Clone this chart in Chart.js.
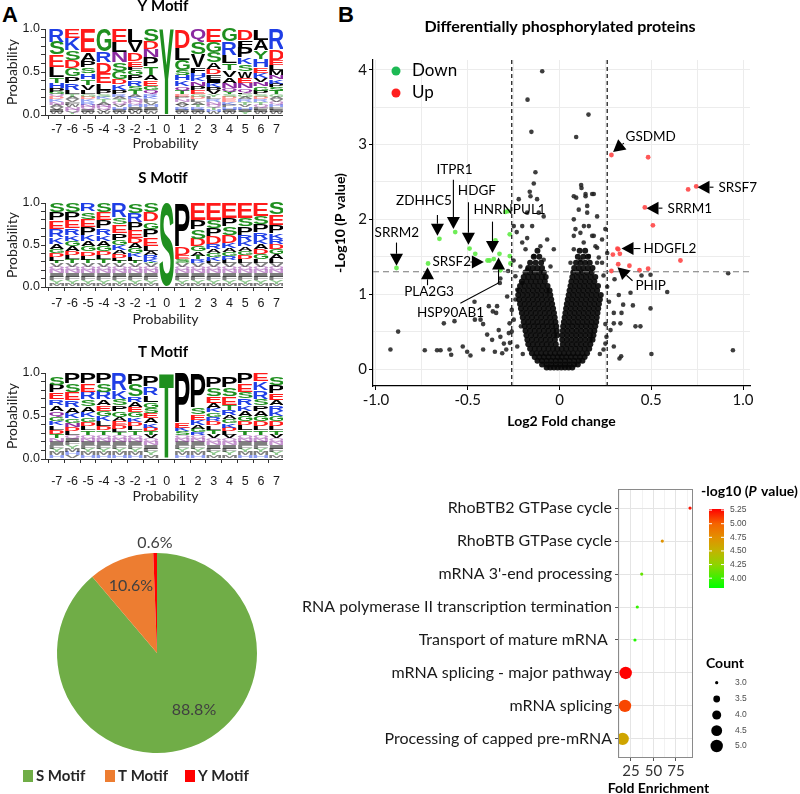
<!DOCTYPE html>
<html><head><meta charset="utf-8">
<script src="https://cdn.jsdelivr.net/npm/chart.js@4.4.1/dist/chart.umd.min.js"></script>
<style>
html,body{margin:0;padding:0;background:#fff}
body{width:800px;height:794px;position:relative;overflow:hidden}
.w{position:absolute;overflow:hidden}
canvas{display:block}
.lbl{position:absolute;font:bold 22px 'Liberation Sans',Arial,sans-serif;line-height:22px;color:#000}
</style></head><body>
<div class="lbl" style="left:2px;top:4px">A</div>
<div class="lbl" style="left:338px;top:4px">B</div>
<div class="w" style="left:0;top:0;width:283px;height:152px"><canvas id="logoY" width="300" height="152"></canvas></div>
<div class="w" style="left:0;top:172px;width:283px;height:156px"><canvas id="logoS" width="300" height="156"></canvas></div>
<div class="w" style="left:0;top:344px;width:283px;height:161px"><canvas id="logoT" width="300" height="161"></canvas></div>
<div class="w" style="left:0;top:520px;width:283px;height:274px"><canvas id="pie" width="283" height="274"></canvas></div>
<div class="w" style="left:300px;top:0;width:500px;height:430px"><canvas id="volcano" width="500" height="430"></canvas></div>
<div class="w" style="left:280px;top:460px;width:520px;height:334px"><canvas id="dots" width="520" height="340"></canvas></div>
<script>
// ===================== DATA =====================
const positions = [-7,-6,-5,-4,-3,-2,-1,0,1,2,3,4,5,6,7];

// Sequence logos: letters listed top -> bottom; heights for the leading letters, remaining letters use the tail height
const yMotifLetters = ["RSELTHPGQDKNAVIW","EKSDGPRLTAVFWNQY","EAPSHTVLGDKRNQIW","GRDELPSKTANQVW","ELNSGDKPRATQVHIW","LVDEFGPRSTAKNQHIMW","SDNPTAEGQRKLVHIFW","Y","DLGSHKQTEPNAVRIW","QSVFHKNPEGDLATRIW","EGSADFIKPVYLRNQTHW","GRLTVANQYSDEKPHIW","DFPKSWENQLGARTVHIY","LAYHEKVNGPSDRTQFIW","RDELMNKPSTGAVQHFIW"];
const yMotifHeights = [[.15,.15,.14,.12,.07,.06,.04,.03],[.11,.14,.11,.10,.09,.08,.08,.05],[.27,.10,.08,.07,.07,.06,.06,.05],[.26,.13,.12,.12,.08,.05],[.15,.12,.12,.10,.09,.06,.07,.05],[.15,.12,.10,.07,.04,.06,.06,.06,.05,.05],[.14,.10,.09,.11,.10,.06,.06,.05,.05],[1],[.22,.14,.12,.06,.06,.07,.05,.04],[.15,.14,.15,.07,.05,.05,.05,.05,.05],[.15,.12,.12,.08,.06,.05,.05,.05,.04,.04],[.15,.15,.10,.08,.08,.07,.06,.04,.03],[.13,.08,.12,.08,.08,.08,.06,.06,.05,.02],[.13,.12,.10,.10,.06,.06,.05,.05,.05,.04],[.24,.12,.06,.06,.06,.05,.05,.04,.04,.04]];
const yMotifTail = 0.03;

const sMotifLetters = ["SPERKAGDLTVQNIFYM","SPERKGADLTVQNIFYM","RSEPKAGDLTVQNIFYM","SEPRKAGDLTVQNIFYM","RSEPGKADLTVQNIFYM","SRPEDAGKLTVQNIFYM","SDGPELARKTVQNIFYM","S","PDESGVQNIFYM","EPSDGATRKVQNIFYM","ESPDRAGKLVQNIFYM","EPSDKAGRLVQNIFYM","ESPRKAGDLVQNIFYM","ESPRKADGLVQNIFYM","SEPKRDGALVQNIFYM"];
const sMotifHeights = [[.11,.10,.10,.10,.08,.06,.05,.05,.04,.03],[.11,.10,.09,.08,.07,.06,.06,.05,.05,.05],[.10,.09,.10,.09,.08,.06,.06,.05,.05,.04],[.11,.10,.09,.08,.07,.06,.06,.05,.05,.05],[.17,.09,.10,.08,.06,.06,.05,.05,.03,.03],[.12,.11,.09,.10,.06,.06,.06,.05,.04,.03],[.11,.11,.09,.10,.10,.06,.05,.05,.03,.02],[1],[.52,.10,.05,.03,.02],[.20,.12,.11,.09,.06,.05,.04,.03,.02],[.20,.10,.10,.09,.06,.05,.05,.04,.03],[.18,.10,.10,.10,.06,.05,.05,.04,.04],[.18,.10,.10,.08,.06,.05,.05,.05,.05],[.16,.10,.09,.08,.06,.06,.06,.06,.05],[.14,.12,.10,.07,.06,.06,.06,.06,.05]];
const sMotifTail = 0.04;

const tMotifLetters = ["SPERAQGKLDTNIFYMH","PSERAKGNDLQIFYMHV","PERSAKGDLTQNIFYMH","PSRAEGKLDTQNIFYMH","RKSPGAEDLTQNIFYMH","PSRAEGKDLTQNIFYMH","PRLGSEAKDTVQNIFYM","T","PEKSQNIFYMH","PSEKAGRQNIFYMH","PSEAKGRDLTVQNIFYM","PSETRAGKDLVQNIFYM","PESRKAGDLTQNIFYMH","EKRSPAGDLTQNIFYMH","SPEARKGDLTVQNIFYM"];
const tMotifHeights = [[.10,.09,.08,.07,.07,.06,.05,.05,.05,.05,.05],[.12,.10,.10,.08,.07,.06,.05,.05,.05,.04],[.12,.10,.09,.08,.07,.06,.05,.05,.05,.05],[.12,.10,.09,.07,.06,.06,.06,.06,.05,.05],[.20,.10,.08,.07,.06,.05,.05,.04,.04,.03],[.13,.14,.07,.06,.06,.06,.05,.05,.05,.05],[.12,.10,.08,.07,.06,.06,.06,.05,.04,.04,.04],[1],[.58,.06,.04,.04],[.40,.08,.07,.06,.04,.04,.03],[.13,.10,.08,.06,.05,.05,.05,.05,.05,.05,.05],[.13,.10,.10,.06,.06,.05,.05,.05,.04,.04,.04],[.12,.10,.08,.08,.06,.06,.06,.05,.06,.05],[.10,.10,.10,.08,.06,.06,.06,.06,.05,.05],[.10,.10,.08,.06,.06,.06,.06,.06,.05,.05,.04]];
const tMotifTail = 0.04;

// Pie
const pieLabels = ["S Motif","T Motif","Y Motif"];
const pieValues = [88.8, 10.6, 0.6];

// Volcano
const xThresholds = [-0.26, 0.26];
const pThreshold = 1.3;
const downPoints = [[-0.888,1.35],[-0.716,1.41],[-0.654,1.74],[-0.568,1.83],[-0.490,1.61],[-0.459,1.54],[-0.392,1.45],[-0.381,1.45],[-0.358,1.47],[-0.349,1.72],[-0.327,1.54],[-0.322,1.32],[-0.294,2.10],[-0.280,2.11],[-0.271,1.80],[-0.271,1.51],[-0.267,1.41]];
const upPoints = [[0.283,2.86],[0.483,2.83],[0.701,2.40],[0.745,2.44],[0.465,2.16],[0.509,1.92],[0.320,1.60],[0.316,1.61],[0.291,1.53],[0.329,1.54],[0.320,1.40],[0.381,1.38],[0.436,1.32],[0.483,1.34],[0.659,1.45],[0.283,1.31]];
const nsScatter = [[-0.094,3.98],[-0.174,3.60],[0.158,3.40],[-0.153,3.17],[0.091,3.10],[-0.131,2.63],[-0.14,2.48],[-0.162,2.37],[-0.158,2.31],[-0.222,2.27],[0.118,2.46],[0.120,2.42],[0.091,2.29],[0.142,2.31],[0.178,2.34],[0.187,2.34],
[-0.249,1.91],[-0.203,1.69],[-0.176,1.75],[-0.149,1.91],[-0.122,2.27],[-0.113,2.09],[-0.086,2.04],[-0.176,2.09],[-0.203,1.91],[-0.233,1.83],[-0.185,1.60],[-0.14,1.51],[-0.104,1.64],[-0.067,1.73],[-0.031,1.60],[-0.049,1.37],[-0.086,1.46],[-0.213,1.37],[-0.176,1.33],[-0.24,1.24],[-0.203,1.15],[-0.23,1.06],[-0.24,0.93],[-0.26,0.79],[-0.249,0.66],[-0.21,0.57],
[0.142,2.34],[0.078,2.31],[0.105,2.13],[0.151,2.09],[0.205,2.04],[0.078,2.0],[0.160,1.91],[0.114,1.82],[0.187,1.78],[0.078,1.78],[0.132,1.69],[0.196,1.64],[0.078,1.60],[0.160,1.51],[0.114,1.46],[0.06,1.42],[0.205,1.42],[0.151,2.18],[0.25,1.87],[0.232,1.73],[0.205,1.62],[0.178,1.78],[0.133,1.91],[0.087,1.87],[0.26,1.55],[0.232,1.42],[0.214,1.49],
[0.919,1.28],[0.587,1.03],[0.945,0.25],[0.501,0.20],[0.327,0.14],[0.496,0.81],[0.40,0.85],[0.387,1.02],[0.323,0.99],[0.447,1.25],[0.496,1.26],[0.441,0.57],[0.414,0.57],[0.347,0.86],[0.338,0.75],[0.296,0.61],[0.296,0.75],[0.332,0.61],[0.278,0.52],[0.25,0.34],[0.24,0.26],[0.256,0.43],[0.296,0.30],[0.336,0.17],[0.27,0.9],[0.26,1.1],[0.24,1.25],[0.3,1.2],[0.25,0.6],[0.22,0.2],
[-0.921,0.26],[-0.879,0.50],[-0.734,0.25],[-0.667,0.25],[-0.648,0.25],[-0.63,0.61],[-0.599,0.26],[-0.572,0.64],[-0.59,0.19],[-0.527,0.30],[-0.503,0.23],[-0.485,0.18],[-0.463,0.90],[-0.461,0.66],[-0.43,0.66],[-0.416,0.60],[-0.385,0.84],[-0.363,0.77],[-0.345,0.75],[-0.34,0.84],[-0.394,0.46],[-0.367,0.39],[-0.331,0.52],[-0.322,0.43],[-0.303,0.34],[-0.312,0.21],[-0.352,0.23],[-0.416,0.26],[-0.29,0.26],[-0.276,0.48],[-0.272,0.61],[-0.285,0.97],[-0.325,1.15],[-0.322,1.21],[-0.28,1.31],[-0.27,0.35],[-0.26,0.5],[-0.23,0.3],[-0.2,0.2],[-0.25,1.45]];
const coreRows = [
 [0.02,[-0.07,-0.05,-0.03,-0.01,0.01,0.03,0.05,0.07]],
 [0.06,[-0.095,-0.07,-0.045,-0.02,0.005,0.03,0.055,0.08,0.1]],
 [0.11,[-0.12,-0.095,-0.07,-0.045,-0.02,0.005,0.03,0.055,0.08,0.105,0.125]],
 [0.16,[-0.135,-0.11,-0.085,-0.06,-0.035,-0.01,0.012,0.037,0.062,0.087,0.112,0.137]],
 [0.21,[-0.15,-0.125,-0.1,-0.075,-0.05,-0.025,0,0.025,0.05,0.075,0.1,0.125,0.15]],
 [0.27,[-0.16,-0.135,-0.11,-0.085,-0.06,-0.035,-0.012,0.012,0.037,0.062,0.087,0.112,0.137,0.162]],
 [0.33,[-0.17,-0.145,-0.12,-0.095,-0.07,-0.045,-0.02,0.018,0.043,0.068,0.093,0.118,0.143,0.168]],
 [0.39,[-0.175,-0.15,-0.125,-0.1,-0.075,-0.05,-0.025,0.015,0.04,0.065,0.09,0.115,0.14,0.165,0.18]],
 [0.45,[-0.18,-0.155,-0.13,-0.105,-0.08,-0.055,-0.03,-0.012,0.016,0.041,0.066,0.091,0.116,0.141,0.166,0.185]],
 [0.51,[-0.185,-0.16,-0.135,-0.11,-0.085,-0.06,-0.035,-0.015,0.018,0.043,0.068,0.093,0.118,0.143,0.168,0.19]],
 [0.57,[-0.19,-0.165,-0.14,-0.115,-0.09,-0.065,-0.04,-0.018,0.02,0.045,0.07,0.095,0.12,0.145,0.17,0.195]],
 [0.63,[-0.195,-0.17,-0.145,-0.12,-0.095,-0.07,-0.045,-0.022,0.024,0.05,0.075,0.1,0.125,0.15,0.175,0.2]],
 [0.69,[-0.2,-0.175,-0.15,-0.125,-0.1,-0.075,-0.05,-0.026,0.028,0.053,0.078,0.103,0.128,0.153,0.178,0.203]],
 [0.75,[-0.205,-0.18,-0.155,-0.13,-0.105,-0.08,-0.055,-0.03,0.032,0.057,0.082,0.107,0.132,0.157,0.182,0.207]],
 [0.81,[-0.21,-0.185,-0.16,-0.135,-0.11,-0.085,-0.06,-0.035,0.036,0.061,0.086,0.111,0.136,0.161,0.186,0.211]],
 [0.87,[-0.215,-0.19,-0.165,-0.14,-0.115,-0.09,-0.065,-0.04,0.04,0.065,0.09,0.115,0.14,0.165,0.19,0.215]],
 [0.93,[-0.22,-0.195,-0.17,-0.145,-0.12,-0.095,-0.07,-0.045,0.045,0.07,0.095,0.12,0.145,0.17,0.195,0.22]],
 [0.99,[-0.225,-0.2,-0.175,-0.15,-0.125,-0.1,-0.075,-0.05,0.05,0.075,0.1,0.125,0.15,0.175,0.2,0.225]],
 [1.05,[-0.22,-0.195,-0.17,-0.145,-0.12,-0.095,-0.07,-0.054,0.055,0.08,0.105,0.13,0.155,0.18,0.205]],
 [1.11,[-0.215,-0.19,-0.165,-0.14,-0.115,-0.09,-0.065,0.06,0.085,0.11,0.135,0.16,0.185,0.21]],
 [1.17,[-0.205,-0.18,-0.155,-0.13,-0.105,-0.08,0.065,0.09,0.115,0.14,0.165,0.19]],
 [1.23,[-0.195,-0.17,-0.145,-0.12,-0.095,-0.075,0.07,0.095,0.12,0.145,0.17,0.195]],
 [1.29,[-0.185,-0.16,-0.135,-0.11,-0.085,0.075,0.1,0.125,0.15,0.175]],
 [1.35,[-0.17,-0.145,-0.12,-0.095,0.08,0.105,0.13,0.155,0.18]],
 [1.42,[-0.16,-0.13,-0.1,0.09,0.115,0.14,0.165]],
 [1.5,[-0.14,-0.11,0.1,0.13,0.155]],
 [1.58,[-0.12,0.11,0.14]]
];
const geneLabels = ["GSDMD","SRSF7","SRRM1","HDGFL2","PHIP","ITPR1","HDGF","ZDHHC5","HNRNPUL1","SRRM2","SRSF2","PLA2G3","HSP90AB1"];
const geneLabelPos = [[0.360,3.10],[0.866,2.43],[0.589,2.15],[0.458,1.61],[0.414,1.12],[-0.572,2.66],[-0.450,2.39],[-0.738,2.25],[-0.272,2.13],[-0.886,1.82],[-0.692,1.43],[-0.711,1.03],[-0.594,0.76]];
const geneLabelAlign = ["left","left","left","left","left","center","center","center","center","center","left","center","center"];
const geneArrows = [[[0.351,3.02],[0.292,2.90]],[[0.839,2.43],[0.752,2.43]],[[0.561,2.15],[0.474,2.15]],[[0.441,1.61],[0.338,1.61]],[[0.398,1.18],[0.316,1.36]],[[-0.578,2.53],[-0.578,1.87]],[[-0.496,2.23],[-0.496,1.66]],[[-0.665,2.06],[-0.665,1.78]],[[-0.365,1.97],[-0.365,1.55]],[[-0.888,1.69],[-0.888,1.38]],[[-0.485,1.43],[-0.412,1.43]],[[-0.719,1.12],[-0.719,1.36]],[[-0.540,0.88],[-0.332,1.15],[-0.332,1.49]]];

// Enrichment dot plot
const pathways = ["RhoBTB2 GTPase cycle","RhoBTB GTPase cycle","mRNA 3'-end processing","RNA polymerase II transcription termination","Transport of mature mRNA ","mRNA splicing - major pathway","mRNA splicing","Processing of capped pre-mRNA"];
const foldEnrichment = [90.6,59.8,36.9,32.0,29.4,19.1,18.3,15.7];
const geneCount = [3,3,3,3,3,5,5,5];
const negLog10P = [5.22,4.72,4.12,3.98,3.92,5.27,5.08,4.6];
const colorbarTicks = [4.00,4.25,4.50,4.75,5.00,5.25];
const countTicks = [3.0,3.5,4.0,4.5,5.0];

// ===================== HELPERS =====================
const LOGO_FONT = "bold 100px 'Liberation Sans', Arial, sans-serif";
const gm = {};
function glyph(ctx, ch){
  if(!gm[ch]){ctx.save();ctx.font=LOGO_FONT;const m=ctx.measureText(ch);gm[ch]={l:m.actualBoundingBoxLeft,r:m.actualBoundingBoxRight,a:m.actualBoundingBoxAscent,d:m.actualBoundingBoxDescent};ctx.restore();}
  return gm[ch];
}
function letterColor(ch){
  if('RKH'.includes(ch)) return '#1f3ee6';
  if('DE'.includes(ch)) return '#ff1a1a';
  if('GSTYC'.includes(ch)) return '#1f8f1f';
  if('NQ'.includes(ch)) return '#8b2aa0';
  return '#000';
}
function drawGlyph(ctx,ch,x,y,w,h,alpha){
  const m=glyph(ctx,ch); const gw=m.l+m.r, gh=m.a+m.d;
  ctx.save(); ctx.globalAlpha=alpha; ctx.translate(x,y); ctx.scale(w/gw,h/gh); ctx.font=LOGO_FONT; ctx.fillStyle=letterColor(ch);
  ctx.textAlign='left'; ctx.textBaseline='alphabetic'; ctx.fillText(ch,m.l,m.a); ctx.restore();
}

function makeLogo(id, letters, heights, tailH, title, cfg){
  const L = Math.max(...letters.map(s=>s.length));
  const layerLetters=[], layerTail=[], datasets=[];
  for(let j=0;j<L;j++){
    const lets=[], vals=[], tails=[];
    letters.forEach((s,c)=>{
      const k=s.length-1-j;
      if(k>=0){lets.push(s[k]); const isTail=k>=heights[c].length; tails.push(isTail); vals.push(isTail?tailH:heights[c][k]);}
      else {lets.push(''); vals.push(0); tails.push(false);}
    });
    layerLetters.push(lets); layerTail.push(tails);
    datasets.push({data:vals.map((v,i)=>({x:positions[i],y:v})),backgroundColor:'rgba(0,0,0,0)',borderWidth:0,barThickness:14.6,grouped:false});
  }
  const plug={id:'letters'+id,
    afterDatasetsDraw(chart){
      const ctx=chart.ctx;
      chart.data.datasets.forEach((ds,di)=>{
        const meta=chart.getDatasetMeta(di);
        meta.data.forEach((el,i)=>{
          const ch=layerLetters[di][i]; if(!ch) return;
          const top=el.y, bot=el.base, h=bot-top; if(h<0.4) return;
          const pad = h>4?0.5:0.15;
          drawGlyph(ctx,ch,el.x-el.width/2,top+pad/2,el.width,h-pad,layerTail[di][i]?0.5:1);
        });
      });
    },
    afterDraw(chart){
      const ctx=chart.ctx; ctx.save(); ctx.font="bold 15px Lato, 'Noto Sans', sans-serif"; ctx.fillStyle='#000';
      ctx.textAlign='center'; ctx.textBaseline='middle'; ctx.fillText(title,163,cfg.titleY); ctx.restore();
    }};
  new Chart(document.getElementById(id),{
    type:'bar', data:{datasets},
    options:{responsive:false,animation:false,events:[],
      layout:{padding:{top:cfg.padTop,right:14,left:0,bottom:0}},
      plugins:{legend:{display:false},tooltip:{enabled:false}},
      scales:{
        x:{type:'linear',min:-7.745,max:7.6,stacked:true,offset:false,
          afterFit(s){s.height=cfg.xh;},
          afterBuildTicks(s){s.ticks=positions.map(v=>({value:v}));},
          ticks:{font:{family:"'Liberation Sans', Arial",size:12.5},color:'#1a1a1a',padding:cfg.tickPad,callback:v=>String(v),maxRotation:0,autoSkip:false},
          grid:{drawOnChartArea:false,tickLength:4,color:'#333'},border:{color:'#333',width:1},
          title:{display:true,text:'Probability',font:{family:"Lato, 'Noto Sans'",size:14},color:'#222',padding:{top:0,bottom:0.6}}},
        y:{min:0,max:1,stacked:true,
          afterFit(s){s.width=45;},
          afterBuildTicks(s){const t=[];for(let i=0;i<=10;i++)t.push({value:i/10});s.ticks=t;},
          ticks:{font:{family:"'Liberation Sans', Arial",size:12.5},color:'#1a1a1a',padding:1,autoSkip:false,callback:v=>(Math.abs(v*2-Math.round(v*2))<1e-6?v.toFixed(1):'')},
          grid:{drawOnChartArea:false,tickLength:4,color:'#333'},border:{color:'#333',width:1},
          title:{display:true,text:'Probability',font:{family:"Lato, 'Noto Sans'",size:14},color:'#222',padding:{top:3.6,bottom:0}}}
      }},
    plugins:[plug]});
}
makeLogo('logoY',yMotifLetters,yMotifHeights,yMotifTail,'Y Motif',{padTop:29,xh:37,tickPad:3,titleY:6});
makeLogo('logoS',sMotifLetters,sMotifHeights,sMotifTail,'S Motif',{padTop:31,xh:41,tickPad:5,titleY:6});
makeLogo('logoT',tMotifLetters,tMotifHeights,tMotifTail,'T Motif',{padTop:29,xh:46,tickPad:11,titleY:8});

// ===================== PIE =====================
const pieColors=['#70ad47','#ed7d31','#ff0000'];
const pieLabelFrac=[0.68,0.72,1.10], pieLabelShift=[-12.8,0,0];
new Chart(document.getElementById('pie'),{
  type:'pie',
  data:{labels:pieLabels,datasets:[{data:pieValues,backgroundColor:pieColors,borderWidth:0}]},
  options:{responsive:false,animation:false,events:[],
    layout:{padding:{left:57,right:26,top:33,bottom:41}},
    plugins:{legend:{display:false},tooltip:{enabled:false}}},
  plugins:[{id:'pieDecor',afterDraw(chart){
    const ctx=chart.ctx; const meta=chart.getDatasetMeta(0);
    ctx.save(); ctx.font="16px Lato, 'Noto Sans'"; ctx.fillStyle='#404040'; ctx.textAlign='center'; ctx.textBaseline='middle';
    meta.data.forEach((arc,i)=>{
      const mid=(arc.startAngle+arc.endAngle)/2+pieLabelShift[i]*Math.PI/180;
      const r=arc.outerRadius*pieLabelFrac[i];
      ctx.fillText(pieValues[i].toFixed(1)+'%',arc.x+r*Math.cos(mid),arc.y+r*Math.sin(mid));
    });
    const lx=[23,105,185]; ctx.font="bold 15px Lato, 'Noto Sans'"; ctx.textAlign='left';
    pieLabels.forEach((t,i)=>{ctx.fillStyle=pieColors[i];ctx.fillRect(lx[i],250,10,12);ctx.fillStyle='#262626';ctx.fillText(t,lx[i]+13,256.5);});
    ctx.restore();
  }}]
});

// ===================== VOLCANO =====================
const corePts=[]; coreRows.forEach(([yv,xs])=>xs.forEach(xv=>corePts.push({x:xv,y:yv})));
function drawArrow(ctx,pts){
  const n=pts.length,[x2,y2]=pts[n-1],[x1,y1]=pts[n-2];
  const a=Math.atan2(y2-y1,x2-x1),L=12,W=6.5;
  const bx=x2-L*Math.cos(a),by=y2-L*Math.sin(a);
  ctx.beginPath();ctx.moveTo(pts[0][0],pts[0][1]);for(let i=1;i<n-1;i++)ctx.lineTo(pts[i][0],pts[i][1]);ctx.lineTo(bx,by);ctx.stroke();
  ctx.beginPath();ctx.moveTo(x2,y2);ctx.lineTo(bx+W*Math.sin(a),by-W*Math.cos(a));ctx.lineTo(bx-W*Math.sin(a),by+W*Math.cos(a));ctx.closePath();ctx.fill();
}
const volcanoDecor={id:'volcanoDecor',
  afterDatasetsDraw(chart){
    const {ctx,chartArea:a,scales:{x,y}}=chart; ctx.save();
    ctx.lineWidth=1.2; ctx.strokeStyle='#111'; ctx.setLineDash([4,3]);
    xThresholds.forEach(v=>{const p=x.getPixelForValue(v);ctx.beginPath();ctx.moveTo(p,a.top);ctx.lineTo(p,a.bottom);ctx.stroke();});
    ctx.strokeStyle='#777'; ctx.setLineDash([6,4]);
    const py=y.getPixelForValue(pThreshold); ctx.beginPath();ctx.moveTo(a.left,py);ctx.lineTo(a.right,py);ctx.stroke();
    ctx.setLineDash([]); ctx.strokeStyle='#000'; ctx.fillStyle='#000'; ctx.lineWidth=1.1;
    geneArrows.forEach(path=>drawArrow(ctx,path.map(([u,v])=>[x.getPixelForValue(u),y.getPixelForValue(v)])));
    ctx.font="13.5px Lato, 'Noto Sans'"; ctx.textBaseline='middle';
    geneLabels.forEach((t,i)=>{ctx.textAlign=geneLabelAlign[i];ctx.fillText(t,x.getPixelForValue(geneLabelPos[i][0]),y.getPixelForValue(geneLabelPos[i][1]));});
    ctx.restore();
  },
  afterDraw(chart){
    const ctx=chart.ctx; ctx.save(); ctx.fillStyle='#000'; ctx.textBaseline='middle';
    ctx.font="bold 16px Lato, 'Noto Sans'"; ctx.textAlign='center'; ctx.fillText('Differentially phosphorylated proteins',260,27);
    ctx.font="17px Lato, 'Noto Sans'"; ctx.textAlign='left';
    [['Down','#1db954',71],['Up','#ff1f1f',93]].forEach(([t,c,yy])=>{ctx.fillStyle=c;ctx.beginPath();ctx.arc(96,yy,4.5,0,Math.PI*2);ctx.fill();ctx.fillStyle='#000';ctx.fillText(t,112,yy);});
    ctx.restore();
  }};
new Chart(document.getElementById('volcano'),{
  type:'scatter',
  data:{datasets:[
    {label:'NS core',data:corePts,pointRadius:3,pointBackgroundColor:'rgba(8,8,8,0.92)',pointBorderWidth:0},
    {label:'NS',data:nsScatter.map(([a,b])=>({x:a,y:b})),pointRadius:2.3,pointBackgroundColor:'rgba(35,35,35,0.88)',pointBorderWidth:0},
    {label:'Down',data:downPoints.map(([a,b])=>({x:a,y:b})),pointRadius:2.4,pointBackgroundColor:'rgba(95,235,70,0.9)',pointBorderWidth:0},
    {label:'Up',data:upPoints.map(([a,b])=>({x:a,y:b})),pointRadius:2.4,pointBackgroundColor:'rgba(255,70,70,0.9)',pointBorderWidth:0}]},
  options:{responsive:false,animation:false,events:[],
    layout:{padding:{top:60,right:50,left:0,bottom:0}},
    plugins:{legend:{display:false},tooltip:{enabled:false}},
    scales:{
      x:{type:'linear',min:-1.016,max:1.038,afterFit(s){s.height=44;},
        afterBuildTicks(s){s.ticks=[-1,-0.75,-0.5,-0.25,0,0.25,0.5,0.75,1].map(v=>({value:v}));},
        ticks:{font:{family:"Lato, 'Noto Sans'",size:15},color:'#111',padding:1,maxRotation:0,autoSkip:false,callback:v=>(Math.abs(v*2-Math.round(v*2))<1e-6?(v===0?'0':v.toFixed(1)):'')},
        grid:{color:'#ececec',tickLength:4,tickColor:c=>(Math.abs(c.tick.value*2-Math.round(c.tick.value*2))<1e-6?'#000':'rgba(0,0,0,0)')},border:{color:'#000',width:1.2},
        title:{display:true,text:'Log2 Fold change',font:{family:"Lato, 'Noto Sans'",size:14,weight:'bold'},color:'#000',padding:{top:0,bottom:0.6}}},
      y:{type:'linear',min:-0.227,max:4.13,afterFit(s){s.width=73;},
        afterBuildTicks(s){const t=[];for(let i=0;i<=8;i++)t.push({value:i/2});s.ticks=t;},
        ticks:{font:{family:"Lato, 'Noto Sans'",size:15},color:'#111',padding:2,autoSkip:false,callback:v=>(Number.isInteger(v)?String(v):'')},
        grid:{color:'#ececec',tickLength:4,tickColor:c=>(Number.isInteger(c.tick.value)?'#000':'rgba(0,0,0,0)')},border:{color:'#000',width:1.2},
        title:{display:true,text:'-Log10 (P value)',font:{family:"Lato, 'Noto Sans'",size:14,weight:'bold'},color:'#000',padding:{top:31.6,bottom:0}}}
    }},
  plugins:[volcanoDecor]
});

// ===================== DOT PLOT =====================
const cStops=[[3.82,[0,255,0]],[4.0,[60,240,0]],[4.25,[143,212,0]],[4.5,[194,180,0]],[4.75,[227,143,0]],[5.0,[245,100,0]],[5.27,[255,0,0]]];
function colorFor(v){
  if(v<=cStops[0][0]) return 'rgb('+cStops[0][1].join(',')+')';
  for(let i=1;i<cStops.length;i++){ if(v<=cStops[i][0]){const [a,ca]=cStops[i-1],[b,cb]=cStops[i];const t=(v-a)/(b-a);return 'rgb('+ca.map((c,k)=>Math.round(c+(cb[k]-c)*t)).join(',')+')';}}
  return 'rgb(255,0,0)';
}
function sizeFor(n){return Math.sqrt(2.56+17.9*(n-3));}
const dotDecor={id:'dotDecor',
  afterDraw(chart){
    const {ctx,chartArea:a}=chart; ctx.save();
    ctx.strokeStyle='#8a8a8a'; ctx.lineWidth=1; ctx.strokeRect(a.left+0.5,a.top+0.5,a.right-a.left-1,a.bottom-a.top-1);
    ctx.fillStyle='#000'; ctx.font="bold 14px Lato, 'Noto Sans'"; ctx.textAlign='center'; ctx.textBaseline='middle';
    ctx.fillText('Fold Enrichment',(a.left+a.right)/2+3,328);
    const bx=429,bw=15,bt=49,bb=128,vmin=3.82,vmax=5.27;
    const g=ctx.createLinearGradient(0,bb,0,bt);
    cStops.forEach(([v,c])=>g.addColorStop(Math.min(1,Math.max(0,(v-vmin)/(vmax-vmin))),'rgb('+c.join(',')+')'));
    ctx.fillStyle=g; ctx.fillRect(bx,bt,bw,bb-bt);
    ctx.font="8.5px 'Liberation Sans', Arial"; ctx.textAlign='left';
    colorbarTicks.forEach(v=>{const yy=bb-(v-vmin)/(vmax-vmin)*(bb-bt);
      ctx.strokeStyle='#fff';ctx.beginPath();ctx.moveTo(bx,yy);ctx.lineTo(bx+3,yy);ctx.moveTo(bx+bw-3,yy);ctx.lineTo(bx+bw,yy);ctx.stroke();
      ctx.fillStyle='#4d4d4d';ctx.fillText(v.toFixed(2),bx+bw+6,yy);});
    ctx.fillStyle='#000'; let tx=421; const ty=31;
    ctx.font="bold 14px Lato, 'Noto Sans'"; ctx.fillText('-log10 (',tx,ty); tx+=ctx.measureText('-log10 (').width;
    ctx.font="italic bold 14px Lato, 'Noto Sans'"; ctx.fillText('P',tx,ty); tx+=ctx.measureText('P').width+1;
    ctx.font="bold 14px Lato, 'Noto Sans'"; ctx.fillText(' value)',tx,ty);
    ctx.fillText('Count',426,203);
    const cy=[222.7,239,255,270.7,286];
    countTicks.forEach((n,i)=>{ctx.fillStyle='#000';ctx.beginPath();ctx.arc(436.7,cy[i],sizeFor(n),0,Math.PI*2);ctx.fill();
      ctx.fillStyle='#4d4d4d';ctx.font="8.5px 'Liberation Sans', Arial";ctx.fillText(n.toFixed(1),455,cy[i]);});
    ctx.restore();
  }};
new Chart(document.getElementById('dots'),{
  type:'scatter',
  data:{datasets:[{label:'Pathways',data:foldEnrichment.map((v,i)=>({x:v,y:i})),
    pointRadius:geneCount.map(sizeFor),pointBackgroundColor:negLog10P.map(colorFor),pointBorderWidth:0,clip:0}]},
  options:{responsive:false,animation:false,events:[],
    layout:{padding:{top:29,right:107,left:0,bottom:0}},
    plugins:{legend:{display:false},tooltip:{enabled:false}},
    scales:{
      x:{type:'linear',min:10.56,max:93.9,afterFit(s){s.height=42;},
        afterBuildTicks(s){s.ticks=[12.5,25,37.5,50,62.5,75,87.5].map(v=>({value:v}));},
        ticks:{font:{family:"Lato, 'Noto Sans'",size:15},color:'#333',padding:1,maxRotation:0,autoSkip:false,callback:v=>(v%25===0?String(v):'')},
        grid:{color:c=>(c.tick.value%25===0?'#e4e4e4':'#f2f2f2'),tickLength:3,tickColor:c=>(c.tick.value%25===0?'#555':'rgba(0,0,0,0)')},border:{display:false},
        title:{display:false}},
      y:{type:'linear',min:-0.58,max:7.58,reverse:true,afterFit(s){s.width=338;},
        afterBuildTicks(s){s.ticks=pathways.map((p,i)=>({value:i}));},
        ticks:{font:{family:"Lato, 'Noto Sans'",size:16},color:'#1a1a1a',padding:3,autoSkip:false,callback:v=>pathways[v]},
        grid:{color:'#e4e4e4',tickLength:3,tickColor:'#555'},border:{display:false}}
    }},
  plugins:[dotDecor]
});
</script>
</body></html>
